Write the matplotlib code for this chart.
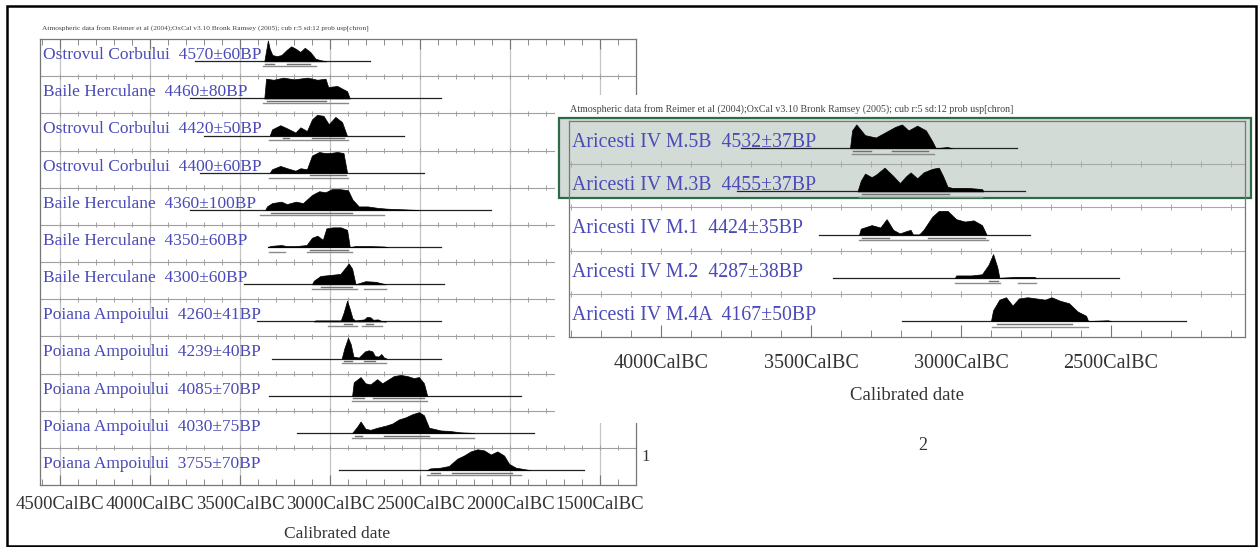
import numpy as np
import matplotlib
matplotlib.use("Agg")
import matplotlib.pyplot as plt
from matplotlib.patches import Rectangle
from matplotlib.transforms import blended_transform_factory

W, H = 1258, 547
SERIF = ["Liberation Serif", "DejaVu Serif"]
BLUE = "#4a4ab8"
HEADER = ("Atmospheric data from Reimer et al (2004);OxCal v3.10 Bronk Ramsey (2005); "
          "cub r:5 sd:12 prob usp[chron]")

# ---------------- panel 1 (years BC) ----------------
labels_1 = [
    "Ostrovul Corbului  4570\u00b160BP",
    "Baile Herculane  4460\u00b180BP",
    "Ostrovul Corbului  4420\u00b150BP",
    "Ostrovul Corbului  4400\u00b160BP",
    "Baile Herculane  4360\u00b1100BP",
    "Baile Herculane  4350\u00b160BP",
    "Baile Herculane  4300\u00b160BP",
    "Poiana Ampoiului  4260\u00b141BP",
    "Poiana Ampoiului  4239\u00b140BP",
    "Poiana Ampoiului  4085\u00b170BP",
    "Poiana Ampoiului  4030\u00b175BP",
    "Poiana Ampoiului  3755\u00b170BP",
]
lines_1 = [(3750, 2775), (3780, 2385), (3700, 2591), (3720, 2480), (3780, 2107),
           (3345, 2385), (3480, 2369), (3404, 2385), (3322, 2385), (3341, 1940),
           (3183, 1866), (2951, 1588)]
years_1 = [
    [3365, 3345, 3335, 3320, 3295, 3270, 3240, 3215, 3190, 3165, 3140, 3110, 3080, 3050, 3020],
    [3365, 3355, 3314, 3259, 3200, 3126, 3070, 3025, 3010, 2960, 2905, 2890],
    [3335, 3322, 3276, 3238, 3192, 3164, 3128, 3100, 3072, 3036, 3007, 2970, 2933, 2906],
    [3335, 3322, 3276, 3238, 3192, 3164, 3128, 3100, 3060, 3030, 3000, 2960, 2925, 2905],
    [3360, 3350, 3322, 3270, 3240, 3190, 3150, 3100, 3060, 3025, 2990, 2945, 2900, 2875,
     2840, 2790, 2735, 2680, 2590, 2510],
    [3345, 3330, 3270, 3240, 3190, 3130, 3100, 3070, 3040, 3020, 2985, 2940, 2905, 2890,
     2860, 2780, 2700, 2680],
    [3100, 3090, 3053, 2997, 2942, 2914, 2896, 2877, 2858, 2803, 2747, 2691],
    [3090, 3081, 2940, 2925, 2905, 2890, 2875, 2860, 2810, 2795, 2775, 2760, 2735, 2715, 2690],
    [2935, 2920, 2900, 2885, 2870, 2840, 2805, 2785, 2765, 2750, 2730, 2715, 2700, 2685],
    [2877, 2868, 2830, 2803, 2775, 2738, 2710, 2682, 2645, 2608, 2571, 2534, 2506, 2478, 2460],
    [2877, 2849, 2830, 2803, 2775, 2738, 2691, 2654, 2617, 2580, 2543, 2506, 2478, 2450,
     2423, 2385, 2339, 2274, 2200],
    [2460, 2445, 2385, 2339, 2293, 2256, 2218, 2181, 2144, 2107, 2070, 2033, 2005, 1968,
     1903, 1890],
]
dens_1 = [
    [0, 1.0, 0.6, 0.3, 0.25, 0.3, 0.55, 0.72, 0.6, 0.45, 0.65, 0.45, 0.12, 0.05, 0],
    [0, 0.95, 0.9, 1.0, 0.92, 1.0, 0.9, 0.95, 0.55, 0.6, 0.35, 0],
    [0, 0.3, 0.5, 0.35, 0.15, 0.4, 0.22, 0.78, 1.0, 0.95, 0.55, 0.9, 0.65, 0],
    [0, 0.17, 0.33, 0.22, 0.1, 0.22, 0.17, 0.83, 1.0, 0.95, 0.95, 1.0, 0.95, 0],
    [0, 0.17, 0.33, 0.4, 0.28, 0.4, 0.33, 0.72, 0.9, 0.85, 1.0, 1.0, 0.95, 0.5,
     0.17, 0.17, 0.1, 0.06, 0.03, 0],
    [0, 0.06, 0.1, 0.05, 0.05, 0.1, 0.45, 0.55, 0.35, 0.9, 0.95, 0.95, 0.83, 0,
     0.05, 0.05, 0.03, 0],
    [0, 0.17, 0.4, 0.45, 0.5, 0.8, 1.0, 0.75, 0, 0.15, 0.12, 0],
    [0, 0.05, 0.05, 0.4, 1.0, 0.6, 0.15, 0.05, 0.1, 0.22, 0.2, 0.08, 0.1, 0.03, 0],
    [0, 0.5, 1.0, 0.7, 0.1, 0.05, 0.35, 0.4, 0.35, 0.12, 0.1, 0.22, 0.05, 0],
    [0, 0.65, 0.9, 0.6, 0.55, 0.8, 0.6, 0.75, 0.95, 1.0, 0.95, 0.85, 0.9, 0.6, 0],
    [0, 0.3, 0.55, 0.2, 0.15, 0.25, 0.35, 0.45, 0.65, 0.75, 0.9, 1.0, 0.85, 0.25,
     0.2, 0.12, 0.1, 0.03, 0],
    [0, 0.08, 0.12, 0.2, 0.55, 0.7, 0.9, 1.0, 0.95, 0.75, 0.9, 0.7, 0.3, 0.12, 0.02, 0],
]
r95_1 = [[(3370, 3080)], [(3370, 2900)], [(3340, 2900)], [(3340, 2900)], [(3390, 2700)],
         [(3340, 3250), (3130, 2880)], [(3100, 2850), (2810, 2690)],
         [(3010, 2850), (2820, 2710)], [(2935, 2690)], [(2880, 2460)], [(2880, 2200)],
         [(2460, 1940)]]
r68_1 = [[(3360, 3310), (3240, 3110)], [(3350, 3020)], [(3260, 3230), (3100, 2920)],
         [(3110, 2910)], [(3330, 2880)], [(3110, 2900)], [(3050, 2880)],
         [(2920, 2880), (2800, 2760)], [(2920, 2880), (2810, 2750)],
         [(2870, 2810), (2760, 2480)], [(2860, 2820), (2700, 2450)],
         [(2440, 2390), (2320, 1990)]]

# ---------------- panel 2 (years BC) ----------------
labels_2 = [
    "Aricesti IV M.5B  4532\u00b137BP",
    "Aricesti IV M.3B  4455\u00b137BP",
    "Aricesti IV M.1  4424\u00b135BP",
    "Aricesti IV M.2  4287\u00b138BP",
    "Aricesti IV M.4A  4167\u00b150BP",
]
lines_2 = [(3732, 2814), (3746, 2785), (3472, 2771), (3428, 2474), (3197, 2250)]
years_2 = [
    [3370, 3363, 3349, 3320, 3284, 3255, 3219, 3197, 3175, 3146, 3117, 3096, 3084, 3045, 3030],
    [3345, 3334, 3320, 3298, 3284, 3255, 3226, 3204, 3182, 3168, 3146, 3125, 3096, 3074,
     3060, 3045, 3030, 2980, 2930, 2925],
    [3340, 3334, 3298, 3269, 3248, 3226, 3204, 3182, 3168, 3160, 3140, 3125, 3096, 3074,
     3045, 3016, 2987, 2958, 2930, 2915],
    [3020, 3016, 2966, 2930, 2908, 2893, 2879, 2872, 2814, 2756, 2750],
    [2900, 2893, 2872, 2850, 2828, 2807, 2778, 2749, 2720, 2698, 2669, 2640, 2611, 2583,
     2576, 2510, 2500],
]
dens_2 = [
    [0, 0.75, 1.0, 0.55, 0.45, 0.65, 0.9, 1.0, 0.75, 0.95, 0.75, 0.3, 0, 0.05, 0],
    [0, 0.45, 0.75, 0.6, 0.7, 1.0, 0.65, 0.35, 0.65, 0.8, 0.55, 0.8, 0.95, 1.0,
     0.65, 0.2, 0.15, 0.15, 0.1, 0],
    [0, 0.25, 0.4, 0.3, 0.65, 0.2, 0.05, 0.15, 0.2, 0, 0, 0.2, 0.75, 1.0,
     1.0, 0.65, 0.55, 0.6, 0.4, 0],
    [0, 0.1, 0.1, 0.15, 0.55, 1.0, 0.45, 0, 0.04, 0.04, 0],
    [0, 0.45, 0.9, 1.0, 0.65, 0.95, 1.0, 0.95, 0.9, 1.0, 0.85, 0.75, 0.4, 0.22,
     0, 0.03, 0],
]
r95_2 = [[(3365, 3090)], [(3340, 2930)], [(3340, 2910)], [(3020, 2870), (2810, 2750)],
         [(2895, 2575)]]
r68_2 = [[(3360, 3300), (3230, 3110)], [(3330, 3040)], [(3330, 3240), (3110, 2920)],
         [(2905, 2875)], [(2880, 2630)]]


def fpos(x0, y0, x1, y1):
    return [x0 / W, 1 - y1 / H, (x1 - x0) / W, (y1 - y0) / H]


def draw_panel(ax, labels, lines, years, dens, r95, r68, xlim, fs, base, amp,
               label_dx, text_dy, sep_color, grid):
    n = len(labels)
    ax.set_xlim(-xlim[0], -xlim[1])
    ax.set_ylim(0, n)
    ax.set_yticks([])
    for s in ax.spines.values():
        s.set_color("#777777")
        s.set_linewidth(0.9)
    tick_pos = np.arange(-4500, -1200, 100)
    if grid:
        for v in np.arange(-4500, -1200, 500):
            ax.axvline(v, color="#c4c4c4", lw=0.9, zorder=0)
    for k in range(1, n):
        ax.axhline(k, color=sep_color, lw=0.8, zorder=1)
        ax.vlines(tick_pos, k - 0.07, k + 0.07, color=sep_color, lw=0.7, zorder=1)
    tr = blended_transform_factory(ax.transAxes, ax.transData)
    for i in range(n):
        y0 = n - 1 - i + base
        ax.plot([-lines[i][0], -lines[i][1]], [y0, y0], color="#222222", lw=0.9, zorder=2)
        xs = -np.array(years[i], dtype=float)
        hs = np.array(dens[i], dtype=float)
        ax.fill_between(xs, y0, y0 + amp * hs, color="black", lw=0.5, zorder=3)
        for a, b in r68[i]:
            ax.plot([-a, -b], [y0 - 0.07, y0 - 0.07], color="#707070", lw=1.0, zorder=2)
        for a, b in r95[i]:
            ax.plot([-a, -b], [y0 - 0.13, y0 - 0.13], color="#8a8a8a", lw=1.0, zorder=2)
        ax.text(label_dx, y0 + text_dy, labels[i], transform=tr, fontsize=fs,
                color=BLUE, family=SERIF, va="baseline", ha="left", zorder=5)


fig = plt.figure(figsize=(W / 100, H / 100), dpi=100)
fig.patch.set_facecolor("white")

# left chart
ax1 = fig.add_axes(fpos(40, 39, 636, 485))
draw_panel(ax1, labels_1, lines_1, years_1, dens_1, r95_1, r68_1, (4611, 1300),
           12.5, 0.4, 0.56, 3 / 596, 0.06, "#a0a0a0", True)
ax1.set_xticks(np.arange(-4500, -1200, 500))
ax1.set_xticks(np.arange(-4600, -1200, 100), minor=True)
ax1.set_xticklabels([f"{-v}CalBC" for v in range(-4500, -1200, 500)],
                    family=SERIF, fontsize=13.5, color="#333333")
ax1.tick_params(axis="x", which="both", direction="in", top=True, colors="#777777",
                labelcolor="#333333", pad=8)
ax1.tick_params(axis="x", which="major", length=7)
ax1.tick_params(axis="x", which="minor", length=4)
ax1.set_zorder(0)

# white area under the second chart and its frame
fig.patches.append(Rectangle((555 / W, 1 - 423 / H), (1253 - 555) / W, (423 - 95) / H,
                             transform=fig.transFigure, facecolor="white",
                             edgecolor="none", zorder=1))
fig.patches.append(Rectangle((559 / W, 1 - 198 / H), (1251 - 559) / W, (198 - 118) / H,
                             transform=fig.transFigure, facecolor="#d3dbd7",
                             edgecolor="#2d6a47", lw=1.6, zorder=1.5))

# right chart
ax2 = fig.add_axes(fpos(569, 121, 1245, 337))
ax2.set_facecolor("none")
draw_panel(ax2, labels_2, lines_2, years_2, dens_2, r95_2, r68_2, (4307, 2053),
           14.3, 0.37, 0.55, 3 / 676, 0.03, "#a8a8a8", False)
ax2.set_xticks(np.arange(-4000, -2000, 500))
ax2.set_xticks(np.arange(-4300, -2000, 100), minor=True)
ax2.set_xticklabels([f"{-v}CalBC" for v in range(-4000, -2000, 500)],
                    family=SERIF, fontsize=14.5, color="#333333")
ax2.tick_params(axis="x", which="both", direction="in", top=False, colors="#777777",
                labelcolor="#333333", pad=12)
ax2.tick_params(axis="x", which="major", length=9)
ax2.tick_params(axis="x", which="minor", length=5)
ax2.set_zorder(2)

# texts
fig.text(42 / W, 1 - 30 / H, HEADER, fontsize=5.3, family=SERIF, color="#444444")
fig.text(570 / W, 1 - 112 / H, HEADER, fontsize=7.2, family=SERIF, color="#444444")
fig.text(337 / W, 1 - 534 / H, "Calibrated date", fontsize=12.5, family=SERIF,
         color="#333333", ha="center", va="center")
fig.text(907 / W, 1 - 396 / H, "Calibrated date", fontsize=13.5, family=SERIF,
         color="#333333", ha="center", va="center")
fig.text(646 / W, 1 - 457 / H, "1", fontsize=12, family=SERIF, color="#333333",
         ha="center", va="center")
fig.text(923 / W, 1 - 445 / H, "2", fontsize=13, family=SERIF, color="#333333",
         ha="center", va="center")

# outer frame
fig.patches.append(Rectangle((7 / W, 1 - 546 / H), (1256 - 7) / W, (546 - 6) / H,
                             transform=fig.transFigure, facecolor="none",
                             edgecolor="black", lw=1.8, zorder=6))

fig.savefig("out.png", dpi=100)
